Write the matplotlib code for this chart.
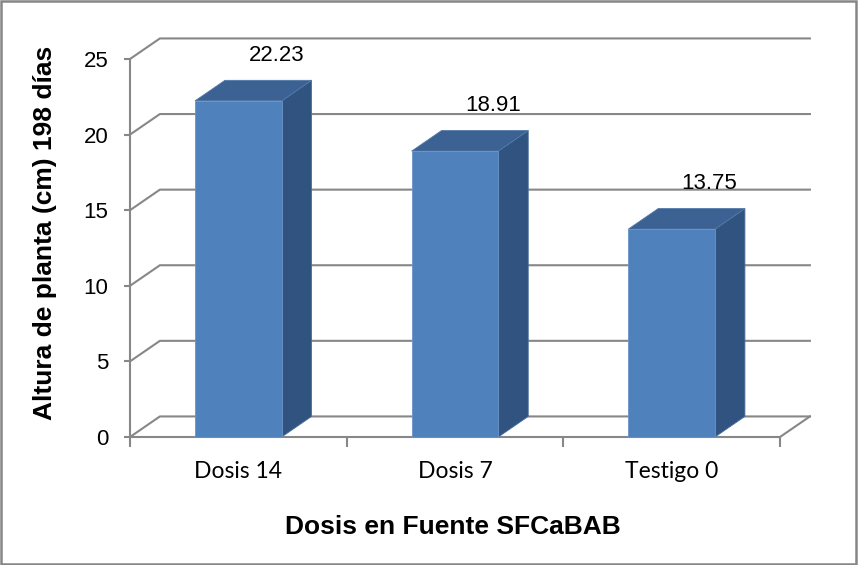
import matplotlib
matplotlib.use("Agg")
import matplotlib.pyplot as plt
from matplotlib.patches import Polygon, Rectangle
from matplotlib.lines import Line2D

# ---- data ----
categories = ["Dosis 14", "Dosis 7", "Testigo 0"]
values = [22.23, 18.91, 13.75]
value_labels = ["22.23", "18.91", "13.75"]
y_ticks = [0, 5, 10, 15, 20, 25]
x_title = "Dosis en Fuente SFCaBAB"
y_title = "Altura de planta (cm) 198 días"

# ---- style ----
W, H = 858, 565
GRID = "#878787"
FRONT = "#4F81BD"
TOP = "#3B6293"
SIDE = "#31537F"
DX, DY = 0.138, 1.36      # depth offset (x in category units, y in value units)
BW = 0.40                 # bar width

fig = plt.figure(figsize=(W / 100, H / 100), dpi=100)
ax = fig.add_axes([130 / W, (H - 437) / H, 650 / W, 378 / H])
ax.set_xlim(-0.5, 2.5)
ax.set_ylim(0, 25)

num_font = ["Liberation Sans Narrow", "Liberation Sans", "DejaVu Sans"]

# back wall gridlines with left diagonals
x0, x1 = -0.5, len(categories) - 0.5
for t in y_ticks:
    ax.add_line(Line2D([x0, x0 + DX, x1 + DX], [t, t + DY, t + DY],
                       color=GRID, lw=1.5, clip_on=False, zorder=1))
# floor right edge
ax.add_line(Line2D([x1, x1 + DX], [0, DY], color=GRID, lw=1.5, clip_on=False, zorder=1))

# bars
for i, v in enumerate(values):
    l, r = i - BW / 2, i + BW / 2
    ax.add_patch(Polygon([(r, 0), (r + DX, DY), (r + DX, v + DY), (r, v)],
                         closed=True, facecolor=SIDE, edgecolor="#4A6E9C", lw=0.6,
                         clip_on=False, zorder=3))
    ax.add_patch(Polygon([(l, v), (r, v), (r + DX, v + DY), (l + DX, v + DY)],
                         closed=True, facecolor=TOP, edgecolor="#5279AA", lw=0.6,
                         clip_on=False, zorder=3))
    ax.add_patch(Rectangle((l, 0), BW, v, facecolor=FRONT, edgecolor="#6A93C6", lw=0.6,
                           clip_on=False, zorder=4))
    ax.text(i + 0.175, v + 3.0, value_labels[i], ha="center", va="center",
            fontsize=16, family=num_font, color="black", zorder=5)

# spines
for s in ["top", "right"]:
    ax.spines[s].set_visible(False)
ax.spines["left"].set_bounds(0, 25)
ax.spines["left"].set_color(GRID)
ax.spines["left"].set_linewidth(1.5)
ax.spines["bottom"].set_color(GRID)
ax.spines["bottom"].set_linewidth(1.5)
ax.spines["left"].set_zorder(2)
ax.spines["bottom"].set_zorder(2)

# y ticks
ax.set_yticks(y_ticks)
ax.set_yticklabels([str(t) for t in y_ticks], fontsize=16, family=num_font)
ax.tick_params(axis="y", length=4.5, width=1.5, color=GRID, pad=11)

# x ticks: major at boundaries, labels at centres
ax.set_xticks([i - 0.5 for i in range(len(categories) + 1)])
ax.set_xticklabels([])
ax.set_xticks(range(len(categories)), minor=True)
ax.set_xticklabels(categories, minor=True, fontsize=16.5, family=["Lato", "DejaVu Sans"])
ax.tick_params(axis="x", which="major", length=7, width=1.5, color=GRID)
ax.tick_params(axis="x", which="minor", length=0, pad=17)

ax.patch.set_visible(False)

# axis titles
fig.text(453 / W, 1 - 527 / H, x_title, ha="center", va="center",
         fontsize=19, fontweight="bold", family=["Liberation Sans", "DejaVu Sans"])
fig.text(45 / W, 1 - 233 / H, y_title, ha="center", va="center", rotation=90,
         fontsize=19, fontweight="bold", family=["Liberation Sans", "DejaVu Sans"])

# outer border
fig.add_artist(Rectangle((0.001, 0.002), 0.997, 0.996, transform=fig.transFigure,
                         fill=False, edgecolor="#868686", lw=1.8))

fig.savefig("out.png", dpi=100)
